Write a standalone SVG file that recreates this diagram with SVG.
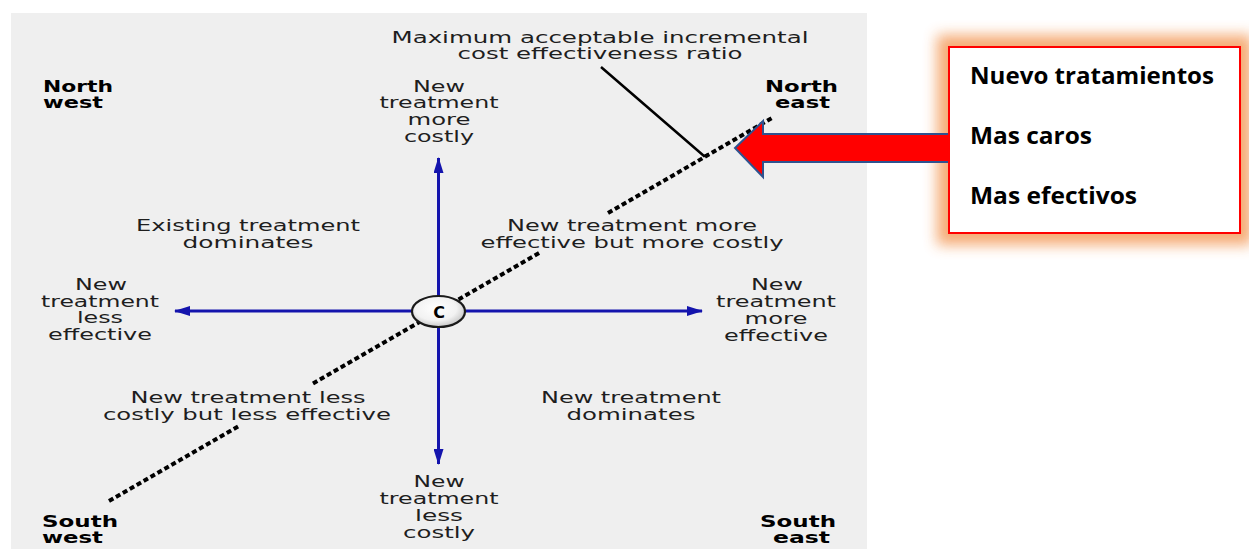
<svg xmlns="http://www.w3.org/2000/svg" width="1249" height="551" viewBox="0 0 1249 551">
<style>
.t{font-family:"DejaVu Sans",sans-serif;font-size:15px;fill:#1e1e1e;text-anchor:middle}
.b{font-family:"DejaVu Sans",sans-serif;font-size:15.5px;font-weight:bold;fill:#000}
.ax{stroke:#1414ad;stroke-width:3;fill:none}
.dot{stroke:#000;stroke-width:4;stroke-dasharray:5 3;fill:none}
.cb{font-family:"Open Sans",sans-serif;font-size:23px;font-weight:bold;fill:#000}
</style>
<defs>
<marker id="ah" viewBox="0 0 16 10" refX="15" refY="5" markerWidth="16" markerHeight="10" markerUnits="userSpaceOnUse" orient="auto">
<path d="M0,0 L16,5 L0,10 Z" fill="#1414ad"/>
</marker>
<radialGradient id="cg" cx="45%" cy="40%" r="65%">
<stop offset="0" stop-color="#ffffff"/>
<stop offset="0.6" stop-color="#f2f2f2"/>
<stop offset="1" stop-color="#bdbdbd"/>
</radialGradient>
<filter id="glow" x="-25%" y="-30%" width="150%" height="160%">
<feGaussianBlur stdDeviation="7"/>
</filter>
</defs>
<rect x="0" y="0" width="1249" height="551" fill="#ffffff"/>
<rect x="11" y="13" width="856" height="536" fill="#efefef"/>

<g id="connectors">
<line class="ax" x1="438.5" y1="311" x2="438.5" y2="158" marker-end="url(#ah)"/>
<line class="ax" x1="438.5" y1="311" x2="438.5" y2="464" marker-end="url(#ah)"/>
<line class="ax" x1="438.5" y1="311" x2="175" y2="311" marker-end="url(#ah)"/>
<line class="ax" x1="438.5" y1="311" x2="702" y2="311" marker-end="url(#ah)"/>
<line class="dot" x1="109" y1="501" x2="239" y2="426"/>
<line class="dot" x1="313" y1="383.5" x2="540" y2="252.5"/>
<line class="dot" x1="608" y1="213" x2="772" y2="118"/>
<polyline points="601,67 704,156 709,154" fill="none" stroke="#000" stroke-width="2.5"/>
</g>

<g id="center-c">
<ellipse cx="438.5" cy="311.5" rx="26.5" ry="15.5" fill="url(#cg)" stroke="#1a1a1a" stroke-width="2.2"/>
<text x="439" y="318" font-family="DejaVu Sans,sans-serif" font-size="16" font-weight="bold" text-anchor="middle" fill="#000">C</text>
</g>

<g id="icer-label">
<text class="t" x="600" y="43" textLength="417" lengthAdjust="spacingAndGlyphs">Maximum acceptable incremental</text>
<text class="t" x="600" y="59" textLength="285" lengthAdjust="spacingAndGlyphs">cost effectiveness ratio</text>
</g>

<g id="north-west"><text class="b" x="43" y="92" textLength="70" lengthAdjust="spacingAndGlyphs">North</text><text class="b" x="43" y="108" textLength="60" lengthAdjust="spacingAndGlyphs">west</text></g>
<g id="north-east"><text class="b" x="765" y="92" textLength="73" lengthAdjust="spacingAndGlyphs">North</text><text class="b" x="775" y="108" textLength="55" lengthAdjust="spacingAndGlyphs">east</text></g>
<g id="south-west"><text class="b" x="42" y="527" textLength="76" lengthAdjust="spacingAndGlyphs">South</text><text class="b" x="42" y="543" textLength="61" lengthAdjust="spacingAndGlyphs">west</text></g>
<g id="south-east"><text class="b" x="760" y="527" textLength="76" lengthAdjust="spacingAndGlyphs">South</text><text class="b" x="773" y="543" textLength="57" lengthAdjust="spacingAndGlyphs">east</text></g>

<g id="more-costly">
<text class="t" x="439" y="92" textLength="52" lengthAdjust="spacingAndGlyphs">New</text>
<text class="t" x="439" y="108" textLength="119" lengthAdjust="spacingAndGlyphs">treatment</text>
<text class="t" x="439" y="125" textLength="63" lengthAdjust="spacingAndGlyphs">more</text>
<text class="t" x="439" y="142" textLength="70" lengthAdjust="spacingAndGlyphs">costly</text>
</g>
<g id="less-costly">
<text class="t" x="439" y="487" textLength="51" lengthAdjust="spacingAndGlyphs">New</text>
<text class="t" x="439" y="504" textLength="119" lengthAdjust="spacingAndGlyphs">treatment</text>
<text class="t" x="439" y="521" textLength="48" lengthAdjust="spacingAndGlyphs">less</text>
<text class="t" x="439" y="538" textLength="72" lengthAdjust="spacingAndGlyphs">costly</text>
</g>
<g id="less-effective">
<text class="t" x="101" y="290" textLength="52" lengthAdjust="spacingAndGlyphs">New</text>
<text class="t" x="100" y="307" textLength="118" lengthAdjust="spacingAndGlyphs">treatment</text>
<text class="t" x="100" y="323" textLength="46" lengthAdjust="spacingAndGlyphs">less</text>
<text class="t" x="100" y="340" textLength="104" lengthAdjust="spacingAndGlyphs">effective</text>
</g>
<g id="more-effective">
<text class="t" x="777" y="290" textLength="52" lengthAdjust="spacingAndGlyphs">New</text>
<text class="t" x="776" y="307" textLength="120" lengthAdjust="spacingAndGlyphs">treatment</text>
<text class="t" x="776" y="324" textLength="63" lengthAdjust="spacingAndGlyphs">more</text>
<text class="t" x="776" y="341" textLength="104" lengthAdjust="spacingAndGlyphs">effective</text>
</g>

<g id="nw-quadrant">
<text class="t" x="248" y="231" textLength="224" lengthAdjust="spacingAndGlyphs">Existing treatment</text>
<text class="t" x="248" y="248" textLength="131" lengthAdjust="spacingAndGlyphs">dominates</text>
</g>
<g id="ne-quadrant">
<text class="t" x="632" y="231" textLength="250" lengthAdjust="spacingAndGlyphs">New treatment more</text>
<text class="t" x="632" y="248" textLength="303" lengthAdjust="spacingAndGlyphs">effective but more costly</text>
</g>
<g id="sw-quadrant">
<text class="t" x="248" y="403" textLength="235" lengthAdjust="spacingAndGlyphs">New treatment less</text>
<text class="t" x="247" y="420" textLength="288" lengthAdjust="spacingAndGlyphs">costly but less effective</text>
</g>
<g id="se-quadrant">
<text class="t" x="631" y="403" textLength="180" lengthAdjust="spacingAndGlyphs">New treatment</text>
<text class="t" x="631" y="420" textLength="129" lengthAdjust="spacingAndGlyphs">dominates</text>
</g>

<g id="callout">
<rect x="937" y="35" width="315" height="210" fill="#f4a266" opacity="0.9" filter="url(#glow)"/>
<polygon points="735,148 763,121 763,134 949,134 949,162 763,162 763,177" fill="#ff0000" stroke="#2f528f" stroke-width="2" stroke-linejoin="miter"/>
<rect x="949" y="47" width="291" height="186" fill="#ffffff" stroke="#ff0000" stroke-width="2"/>
<text class="cb" x="970" y="84" textLength="244" lengthAdjust="spacingAndGlyphs">Nuevo tratamientos</text>
<text class="cb" x="970" y="144" textLength="122" lengthAdjust="spacingAndGlyphs">Mas caros</text>
<text class="cb" x="970" y="204" textLength="167" lengthAdjust="spacingAndGlyphs">Mas efectivos</text>
</g>
</svg>
